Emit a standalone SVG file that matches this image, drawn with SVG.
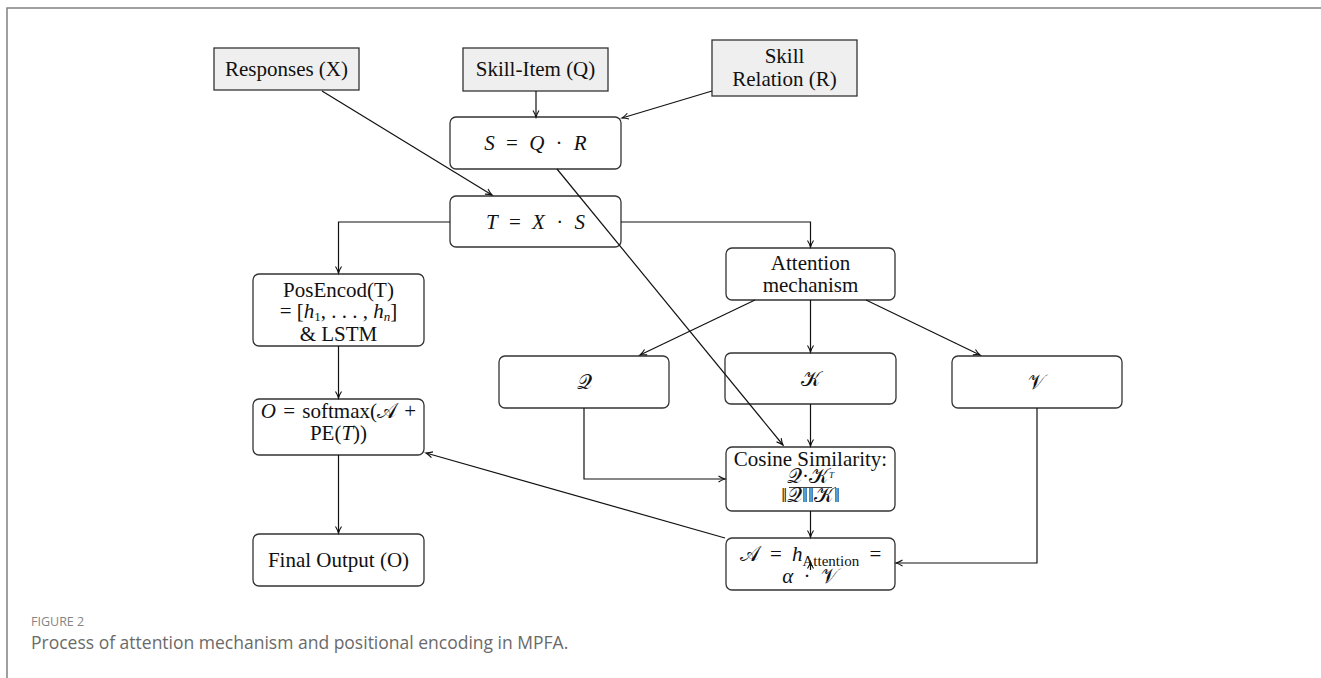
<svg xmlns="http://www.w3.org/2000/svg" width="1321" height="678" viewBox="0 0 1321 678">
<style>
.box{fill:#ffffff;stroke:#333;stroke-width:1.3}
.inbox{fill:#efefef;stroke:#333;stroke-width:1.3}
.t{font-family:"Liberation Serif","Times New Roman",serif;font-size:21px;fill:#111;text-anchor:middle}
.m{word-spacing:6px}
.i{font-style:italic}
.cal{font-family:"DejaVu Serif","Liberation Serif",serif;font-style:normal}
.e{fill:none;stroke:#111;stroke-width:1.2}
.cap1{font-family:"Open Sans","Noto Sans",sans-serif;font-size:12.5px;fill:#858585}
.cap2{font-family:"Open Sans","Noto Sans",sans-serif;font-size:17.5px;fill:#6a6a6a}
</style>
<defs>
<marker id="ah" markerWidth="10" markerHeight="10" refX="7" refY="4" orient="auto" markerUnits="userSpaceOnUse">
<path d="M0.5,1 Q4,3.2 7,4 Q4,4.8 0.5,7" fill="none" stroke="#111" stroke-width="1.1"/>
</marker>
</defs>
<rect width="1321" height="678" fill="#ffffff"/>
<g id="frame"><path d="M7,678 V8 H1321" fill="none" stroke="#808080" stroke-width="1.5"/></g>

<g id="responses">
<rect class="inbox" x="214" y="48" width="145" height="42"/>
<text class="t" x="286.5" y="76">Responses (X)</text>
</g>
<g id="skill-item">
<rect class="inbox" x="463" y="48" width="145" height="43"/>
<text class="t" x="535.5" y="76">Skill-Item (Q)</text>
</g>
<g id="skill-relation">
<rect class="inbox" x="712" y="40" width="145" height="56"/>
<text class="t" x="784.5" y="63">Skill</text>
<text class="t" x="784.5" y="86">Relation (R)</text>
</g>
<g id="s-node">
<rect class="box" x="450" y="117" width="171" height="52" rx="6"/>
<text class="t m" x="535.5" y="150"><tspan class="i">S</tspan> = <tspan class="i">Q</tspan> · <tspan class="i">R</tspan></text>
</g>
<g id="t-node">
<rect class="box" x="450" y="196" width="171" height="51" rx="6"/>
<text class="t m" x="535.5" y="229"><tspan class="i">T</tspan> = <tspan class="i">X</tspan> · <tspan class="i">S</tspan></text>
</g>
<g id="posencod">
<rect class="box" x="253" y="274" width="171" height="72" rx="6"/>
<text class="t" x="338.5" y="297">PosEncod(T)</text>
<text class="t" x="338.5" y="318">= [<tspan class="i">h</tspan><tspan font-size="13" dy="3">1</tspan><tspan dy="-3">, . . . , </tspan><tspan class="i">h</tspan><tspan class="i" font-size="13" dy="3">n</tspan><tspan dy="-3">]</tspan></text>
<text class="t" x="338.5" y="341">&amp; LSTM</text>
</g>
<g id="o-node">
<rect class="box" x="253" y="399" width="171" height="56" rx="6"/>
<text class="t" x="338.5" y="418" word-spacing="2px"><tspan class="i">O</tspan> = softmax(<tspan class="cal">𝒜</tspan> +</text>
<text class="t" x="338.5" y="440">PE(<tspan class="i">T</tspan>))</text>
</g>
<g id="final">
<rect class="box" x="253" y="534" width="171" height="52" rx="6"/>
<text class="t" x="338.5" y="567">Final Output (O)</text>
</g>
<g id="attention">
<rect class="box" x="726" y="248" width="169" height="52" rx="6"/>
<text class="t" x="810.5" y="270">Attention</text>
<text class="t" x="810.5" y="292">mechanism</text>
</g>
<g id="q-node">
<rect class="box" x="499" y="356" width="170" height="52" rx="6"/>
<text class="t" x="584" y="389"><tspan class="cal">𝒬</tspan></text>
</g>
<g id="k-node">
<rect class="box" x="725" y="353" width="171" height="51" rx="6"/>
<text class="t" x="810.5" y="386"><tspan class="cal">𝒦</tspan></text>
</g>
<g id="v-node">
<rect class="box" x="952" y="356" width="170" height="52" rx="6"/>
<text class="t" x="1037" y="389"><tspan class="cal">𝒱</tspan></text>
</g>
<g id="cosine">
<rect class="box" x="726" y="447" width="169" height="64" rx="6"/>
<text class="t" x="810.5" y="466">Cosine Similarity:</text>
<text class="t" x="810.5" y="483" font-size="11.5"><tspan class="cal">𝒬</tspan>·<tspan class="cal">𝒦</tspan><tspan class="i" font-size="9" dy="-5">T</tspan></text>
<line x1="789" y1="487.5" x2="832" y2="487.5" stroke="#111" stroke-width="0.8"/>
<text class="t" x="810.5" y="502" font-size="11.5">‖<tspan class="cal">𝒬</tspan>‖‖<tspan class="cal">𝒦</tspan>‖</text>
</g>
<g id="a-node">
<rect class="box" x="726" y="538" width="169" height="52" rx="6"/>
<text class="t" x="810.5" y="561" word-spacing="5px"><tspan class="cal">𝒜</tspan> = <tspan class="i">h</tspan><tspan font-size="15" dy="5">Attention</tspan><tspan dy="-5"> =</tspan></text>
<text class="t" x="810.5" y="583" word-spacing="5px"><tspan class="i">α</tspan> · <tspan class="cal">𝒱</tspan></text>
</g>

<g id="connectors">
<path class="e" d="M322,91 L492,195" marker-end="url(#ah)"/>
<path class="e" d="M536,91 V117" marker-end="url(#ah)"/>
<path class="e" d="M712,91 L622,118" marker-end="url(#ah)"/>
<path class="e" d="M557,169 L783,445" marker-end="url(#ah)"/>
<path class="e" d="M450,222 H338.5 V273" marker-end="url(#ah)"/>
<path class="e" d="M621,222 H810.5 V247" marker-end="url(#ah)"/>
<path class="e" d="M338.5,346 V398" marker-end="url(#ah)"/>
<path class="e" d="M338.5,455 V533" marker-end="url(#ah)"/>
<path class="e" d="M755,300 L640,355" marker-end="url(#ah)"/>
<path class="e" d="M810.5,300 V352" marker-end="url(#ah)"/>
<path class="e" d="M866,300 L980,355" marker-end="url(#ah)"/>
<path class="e" d="M584,408 V479 H725" marker-end="url(#ah)"/>
<path class="e" d="M810.5,404 V446" marker-end="url(#ah)"/>
<path class="e" d="M810.5,511 V537" marker-end="url(#ah)"/>
<path class="e" d="M1037,408 V563 H896" marker-end="url(#ah)"/>
<path class="e" d="M725,538 L426,453" marker-end="url(#ah)"/>
<path class="e" d="M810.5,570 V562" marker-end="url(#ah)"/>
</g>

<g id="caption">
<text class="cap1" x="31" y="626">FIGURE 2</text>
<text class="cap2" x="31" y="649">Process of attention mechanism and positional encoding in MPFA.</text>
</g>
</svg>
